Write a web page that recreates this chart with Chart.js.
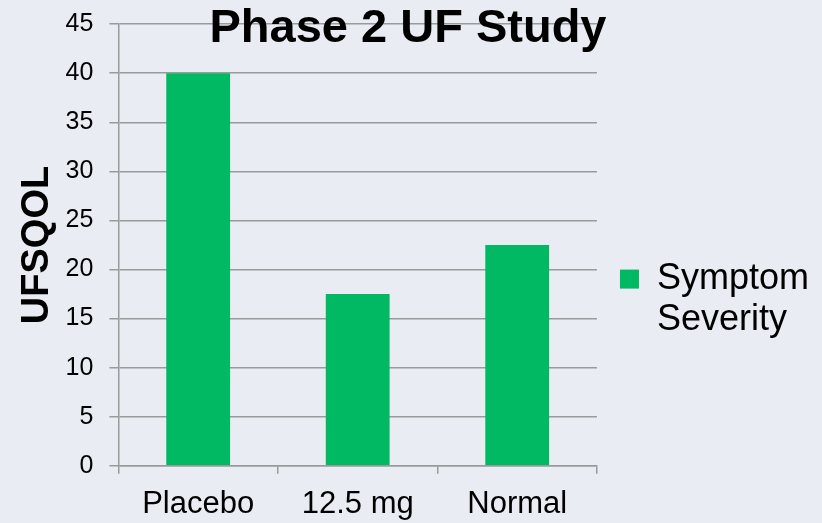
<!DOCTYPE html>
<html>
<head>
<meta charset="utf-8">
<script src="https://cdn.jsdelivr.net/npm/chart.js@4/dist/chart.umd.min.js"></script>
<style>
  html, body { margin: 0; padding: 0; background: #e9ecf2; }
  #chart-div { width: 822px; height: 523px; }
</style>
</head>
<body>
<div id="chart-div"><canvas id="myChart"></canvas></div>
<script>
const categories = ["Placebo", "12.5 mg", "Normal"];
const severity = [40, 17.5, 22.5];
const seriesName = ["Symptom", "Severity"];
const yTicksMax = 45;
const yTicksStep = 5;

const gridGray = "#9a9a9a";
const fontFam = "'Liberation Sans', Arial, sans-serif";

// the legend sizes itself on the line with the most characters,
// so give the (visually wider) first line two zero-width spaces
const legendLines = [seriesName[0] + "\u200B\u200B", seriesName[1]];

new Chart(document.getElementById("myChart"), {
  type: "bar",
  data: {
    labels: categories,
    datasets: [{
      label: legendLines,
      data: severity,
      backgroundColor: "#00b962",
      borderWidth: 0,
      barPercentage: 0.4,
      categoryPercentage: 1.0
    }]
  },
  options: {
    responsive: true,
    maintainAspectRatio: false,
    animation: false,
    layout: { padding: { left: -3, right: 3, top: 0, bottom: -12 } },
    plugins: {
      title: {
        display: true,
        text: "Phase 2 UF Study",
        color: "#000",
        font: { family: fontFam, size: 47, weight: "bold" },
        padding: { top: 0, bottom: -32.7 }
      },
      legend: {
        position: "right",
        maxWidth: 300,
        title: { display: true, text: " ", padding: 17, font: { size: 30 } },
        labels: {
          color: "#000",
          boxWidth: 19,
          boxHeight: 19,
          padding: 23,
          font: { family: fontFam, size: 36, lineHeight: 1.15 }
        }
      },
      tooltip: { enabled: false }
    },
    scales: {
      x: {
        grid: {
          display: true,
          drawOnChartArea: false,
          drawTicks: true,
          tickLength: 8,
          color: gridGray,
          lineWidth: 1.5,
          offset: true
        },
        border: { color: gridGray, width: 1.5 },
        ticks: {
          color: "#000",
          padding: 12,
          font: { family: fontFam, size: 31 }
        }
      },
      y: {
        min: 0,
        max: yTicksMax,
        grid: { color: gridGray, lineWidth: 1.5, tickLength: 9 },
        border: { color: gridGray, width: 1.5 },
        title: {
          display: true,
          text: "UFSQOL",
          color: "#000",
          font: { family: fontFam, size: 38, weight: "bold" },
          padding: { top: 18, bottom: -11 }
        },
        ticks: {
          stepSize: yTicksStep,
          color: "#000",
          padding: 16,
          font: { family: fontFam, size: 25, lineHeight: 0.65 }
        }
      }
    }
  }
});
</script>
</body>
</html>
